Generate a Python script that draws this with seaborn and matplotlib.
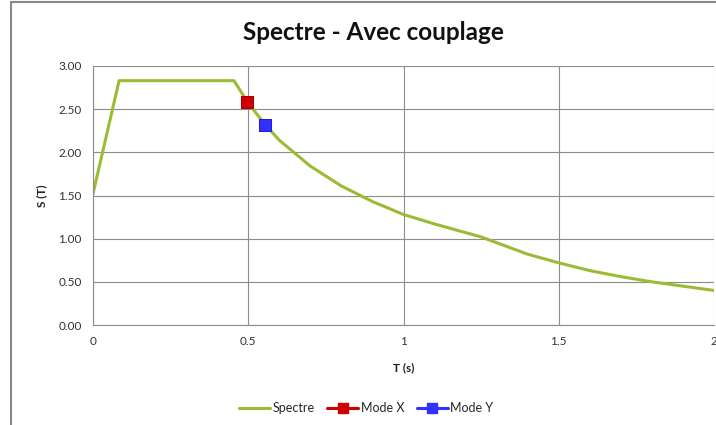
import matplotlib
matplotlib.use("Agg")
import matplotlib.pyplot as plt
import seaborn as sns
import pandas as pd
from matplotlib.lines import Line2D

# Data
period = [0.0, 0.084, 0.454, 0.50, 0.55, 0.60, 0.70, 0.80, 0.90, 1.00, 1.10, 1.25,
          1.40, 1.50, 1.60, 1.70, 1.80, 1.90, 2.00]
spectre = [1.52, 2.83, 2.83, 2.57, 2.34, 2.14, 1.84, 1.61, 1.43, 1.28, 1.17, 1.02,
           0.82, 0.72, 0.63, 0.56, 0.50, 0.45, 0.40]
mode_x_T = [0.496]
mode_x_S = [2.58]
mode_y_T = [0.554]
mode_y_S = [2.32]
x_ticks = [0, 0.5, 1, 1.5, 2]
x_tick_labels = ["0", "0.5", "1", "1.5", "2"]
y_ticks = [0.0, 0.5, 1.0, 1.5, 2.0, 2.5, 3.0]

sns.set_theme(style="white")
plt.rcParams['font.family'] = ['Lato', 'DejaVu Sans']

fig = plt.figure(figsize=(7.16, 4.25), dpi=100)
ax = fig.add_axes([93/716, 1-325/425, (714-93)/716, (325-66)/425])

df = pd.DataFrame({"T": period, "S": spectre})
sns.lineplot(data=df, x="T", y="S", ax=ax, color="#9bbb34", linewidth=2.2,
             label="Spectre", legend=False)
sns.lineplot(x=mode_x_T, y=mode_x_S, ax=ax, color="#d00000", marker="s",
             markersize=9, linewidth=0, markeredgecolor="#a00000", legend=False)
sns.lineplot(x=mode_y_T, y=mode_y_S, ax=ax, color="#3030ff", marker="s",
             markersize=9, linewidth=0, markeredgecolor="#2020d0", legend=False)

ax.set_xlim(0, 2)
ax.set_ylim(0, 3)
ax.set_xticks(x_ticks)
ax.set_xticklabels(x_tick_labels)
ax.set_yticks(y_ticks)
ax.set_yticklabels([f"{v:.2f}" for v in y_ticks])
ax.grid(True, color="#8c8c8c", linewidth=0.8)
ax.set_axisbelow(True)
for s in ["top", "right"]:
    ax.spines[s].set_visible(False)
for s in ["left", "bottom"]:
    ax.spines[s].set_color("#8c8c8c")
    ax.spines[s].set_linewidth(0.8)
ax.tick_params(axis="both", labelsize=8.5, colors="#333333", length=0, pad=8)
ax.set_xlabel("T (s)", fontsize=8.5, fontweight="bold", color="#222222", labelpad=11)
ax.set_ylabel("S (T)", fontsize=8.5, fontweight="bold", color="#222222", labelpad=8)

fig.text(373/716, 1-33/425, "Spectre - Avec couplage", ha="center", va="center",
         fontsize=17.5, fontweight="bold", color="#111111")

handles = [
    Line2D([], [], color="#9bbb34", linewidth=2.2),
    Line2D([], [], color="#d00000", linewidth=2.2, marker="s", markersize=7),
    Line2D([], [], color="#3030ff", linewidth=2.2, marker="s", markersize=7),
]
fig.legend(handles, ["Spectre", "Mode X", "Mode Y"], loc="center",
           bbox_to_anchor=(366/716, 1-408/425), ncol=3, frameon=False,
           fontsize=9, handlelength=2.5, handletextpad=0.2, columnspacing=1.0)

# Excel chart-area border (partially visible)
fig.add_artist(Line2D([11/716, 11/716], [0, 1-2/425], transform=fig.transFigure,
                      color="#888888", linewidth=1.5))
fig.add_artist(Line2D([11/716, 1], [1-2/425, 1-2/425], transform=fig.transFigure,
                      color="#888888", linewidth=1.5))

fig.savefig("out.png", dpi=100)
